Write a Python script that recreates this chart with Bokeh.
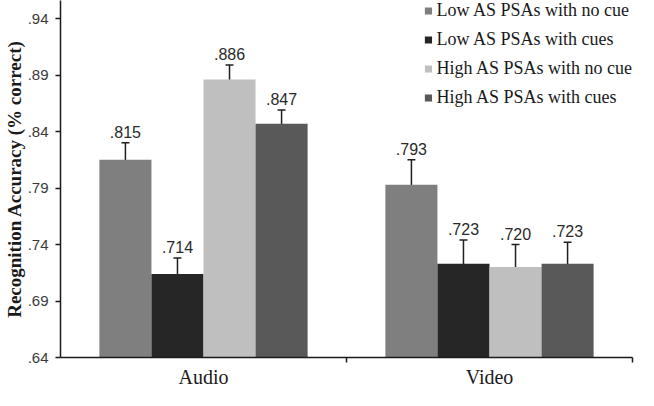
from bokeh.plotting import figure
from bokeh.models import (ColumnDataSource, Whisker, LabelSet, FixedTicker, Legend,
                          LegendItem, Range1d, TeeHead)
from bokeh.core.properties import value
from bokeh.embed import file_html
from bokeh.resources import INLINE

# ---- data ----
modalities = ["Audio", "Video"]
series_names = ["Low AS PSAs with no cue", "Low AS PSAs with cues",
                "High AS PSAs with no cue", "High AS PSAs with cues"]
low_no_cue = [0.815, 0.793]
low_cues = [0.714, 0.723]
high_no_cue = [0.886, 0.720]
high_cues = [0.847, 0.723]
low_no_cue_err = [0.015, 0.022]
low_cues_err = [0.014, 0.021]
high_no_cue_err = [0.013, 0.020]
high_cues_err = [0.012, 0.019]
y_ticks = [0.64, 0.69, 0.74, 0.79, 0.84, 0.89, 0.94]
y_tick_labels = [".64", ".69", ".74", ".79", ".84", ".89", ".94"]

colors = ["#7f7f7f", "#262626", "#bfbfbf", "#595959"]
all_means = [low_no_cue, low_cues, high_no_cue, high_cues]
all_errs = [low_no_cue_err, low_cues_err, high_no_cue_err, high_cues_err]

Y0, Y1 = 0.64, 0.956
bar_w = 0.182

p = figure(width=638, height=390, output_backend="svg", toolbar_location=None,
           x_range=Range1d(0, 2), y_range=Range1d(Y0, Y1),
           min_border_left=60, min_border_right=6, min_border_top=0, min_border_bottom=33)
p.outline_line_color = None
p.xgrid.visible = False
p.ygrid.visible = False
p.background_fill_color = "white"
p.border_fill_color = "white"

legend_items = []
for j, (name, means, errs, col) in enumerate(zip(series_names, all_means, all_errs, colors)):
    xs = [i + 0.5 + (j - 1.5) * bar_w for i in range(len(modalities))]
    src = ColumnDataSource(dict(
        x=xs, top=means,
        upper=[m + e for m, e in zip(means, errs)],
        lower=[m - e for m, e in zip(means, errs)],
        label=["." + f"{m:.3f}".split(".")[1] for m in means],
    ))
    r = p.vbar(x="x", top="top", bottom=Y0, width=bar_w, source=src,
               fill_color=col, line_color=None)
    legend_items.append(LegendItem(label=name, renderers=[r]))
    wh = Whisker(base="x", upper="upper", lower="lower", source=src,
                 line_color="#1f1f1f", line_width=1.5,
                 upper_head=TeeHead(size=8, line_color="#1f1f1f", line_width=1.5),
                 lower_head=TeeHead(size=8, line_color="#1f1f1f", line_width=1.5))
    p.add_layout(wh)
    lbl = LabelSet(x="x", y="upper", text="label", source=src, y_offset=5,
                   text_align="center", text_baseline="bottom",
                   text_font=value("Liberation Sans"), text_font_size=value("16px"),
                   text_color="#2a2a2a")
    p.add_layout(lbl)

legend = Legend(items=legend_items, location="top_right", margin=0, padding=0,
                border_line_color=None, background_fill_alpha=0,
                glyph_width=9, glyph_height=9, label_height=20, spacing=8,
                label_standoff=4,
                label_text_font="Liberation Serif", label_text_font_size="18px",
                label_text_color="#1a1a1a")
p.add_layout(legend, "center")

# x axis
xa = p.xaxis[0]
xa.ticker = FixedTicker(ticks=[0.5, 1.5], minor_ticks=[1, 2])
xa.major_label_overrides = {0.5: modalities[0], 1.5: modalities[1]}
xa.major_tick_out = 0
xa.major_tick_in = 0
xa.minor_tick_out = 5
xa.minor_tick_in = 0
xa.minor_tick_line_color = "#1a1a1a"
xa.minor_tick_line_width = 1.5
xa.axis_line_color = "#1a1a1a"
xa.axis_line_width = 1.5
xa.major_label_text_font = "Liberation Serif"
xa.major_label_text_font_size = "20px"
xa.major_label_text_color = "#1a1a1a"
xa.major_label_standoff = 3

# y axis
ya = p.yaxis[0]
ya.ticker = FixedTicker(ticks=y_ticks, minor_ticks=[])
ya.major_label_overrides = {t: l for t, l in zip(y_ticks, y_tick_labels)}
ya.major_tick_out = 5
ya.major_tick_in = 0
ya.major_tick_line_color = "#1a1a1a"
ya.major_tick_line_width = 1.5
ya.axis_line_color = "#1a1a1a"
ya.axis_line_width = 1.5
ya.major_label_text_font = "Liberation Sans"
ya.major_label_text_font_size = "15px"
ya.major_label_text_color = "#3a3a3a"
ya.major_label_standoff = 7
ya.axis_label = "Recognition Accuracy (% correct)"
ya.axis_label_text_font = "Liberation Serif"
ya.axis_label_text_font_style = "bold"
ya.axis_label_text_font_size = "19px"
ya.axis_label_text_color = "#1a1a1a"
ya.axis_label_standoff = 0

open("out.html", "w").write(file_html(p, INLINE))
